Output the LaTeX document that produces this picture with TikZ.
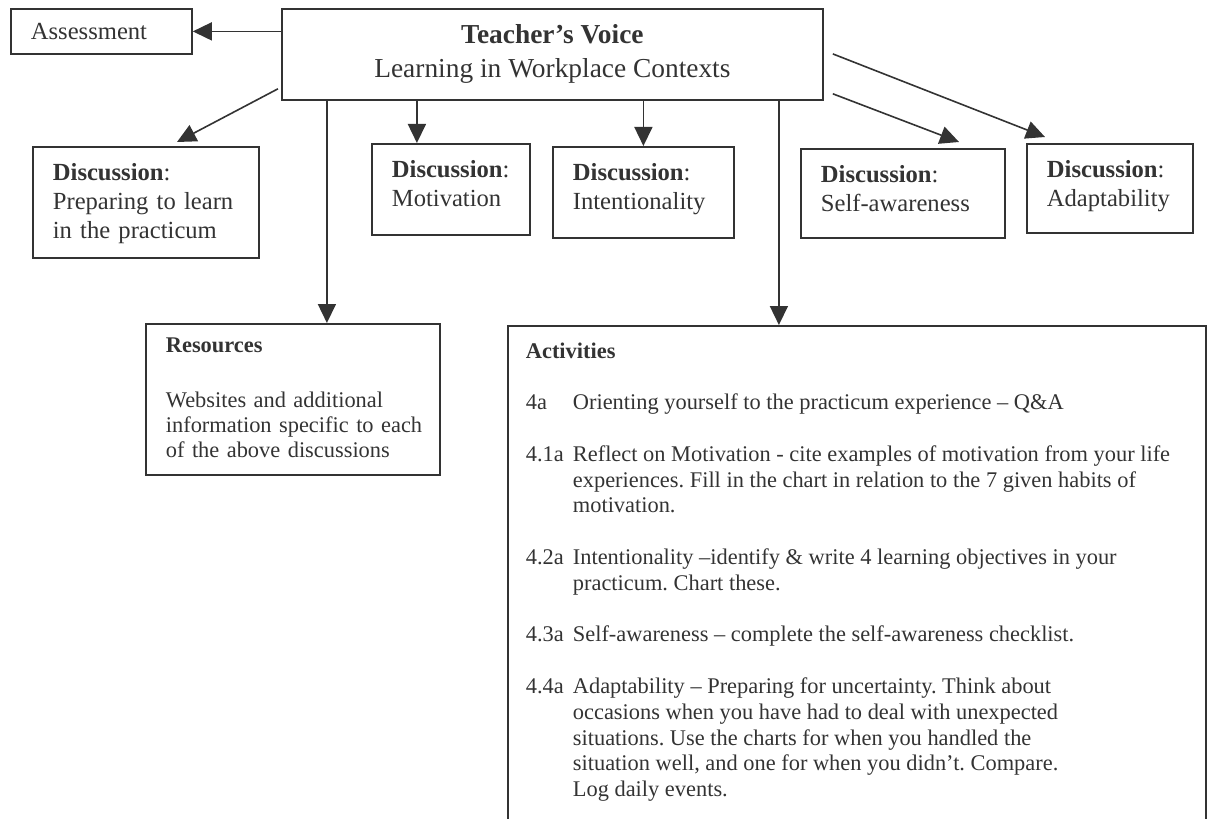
\documentclass[tikz,border=0pt]{standalone}
\usepackage{fontspec}
\setmainfont{Liberation Serif}
\usetikzlibrary{arrows.meta,calc}
\definecolor{lc}{gray}{0.2}
\definecolor{tc}{gray}{0.2}
\newcommand{\actitm}[2]{\hangindent=23.5pt\hangafter=1\noindent\makebox[23.5pt][l]{#1}#2\par}
\begin{document}
\begin{tikzpicture}[x=0.5pt,y=-0.5pt,
  box/.style={draw=lc, line width=0.9pt, rectangle, text=tc, inner ysep=0pt, align=left, anchor=north west},
  disc/.style={font=\fontsize{12.3pt}{14.5pt}\selectfont, inner xsep=10pt, text height=17pt},
  arr/.style={draw=lc, line width=0.8pt, -{Triangle[length=9.5pt,width=9pt]}}]
\useasboundingbox (0,0) rectangle (1208,818);

\node[box, font=\fontsize{12.3pt}{14.5pt}\selectfont, inner xsep=10pt, text width=70.5pt, minimum height=22.5pt] (as) at (10,8) {Assessment};
\node[box, align=center, font=\fontsize{13.7pt}{17pt}\selectfont, minimum width=270.5pt, minimum height=45.5pt] (tv) at (281,8)
  {\textbf{Teacher’s Voice}\\Learning in Workplace Contexts};

\node[box, disc, text width=93pt, text depth=38.5pt] (prep) at (32,146)
  {\textbf{Discussion}:\\Preparing to learn\\in the practicum};
\node[box, disc, text width=59pt, text depth=28.5pt] (mot) at (371,143)
  {\textbf{Discussion}:\\Motivation};
\node[box, disc, text width=70.5pt, text depth=28.5pt] (int) at (552,146)
  {\textbf{Discussion}:\\Intentionality};
\node[box, disc, text width=82pt, text depth=27.5pt] (sa) at (800,148)
  {\textbf{Discussion}:\\Self-awareness};
\node[box, disc, text width=63pt, text depth=27.5pt] (ad) at (1026,143)
  {\textbf{Discussion}:\\Adaptability};

\node[box, font=\fontsize{11.2pt}{12.5pt}\selectfont, inner xsep=10pt, text width=127pt, text height=14.5pt, text depth=61pt] (res) at (145,323)
  {\frenchspacing\mbox{\textbf{Resources}}\\[15pt]\mbox{Websites and additional}\\\mbox{information specific to each}\\\mbox{of the above discussions}};

\node[box, align=justify, font=\fontsize{11.2pt}{12.85pt}\selectfont, inner xsep=9pt, inner ysep=8.3pt, text width=331pt, text depth=250pt] (act) at (507,325)
  {\frenchspacing\setlength{\parskip}{13pt}%
   \noindent\textbf{Activities}\par
   \actitm{4a}{\mbox{Orienting yourself to the practicum experience – Q\&A}}
   \actitm{4.1a}{\mbox{Reflect on Motivation - cite examples of motivation from your life}\\\mbox{experiences. Fill in the chart in relation to the 7 given habits of}\\\mbox{motivation.}}
   \actitm{4.2a}{\mbox{Intentionality –identify \& write 4 learning objectives in your}\\\mbox{practicum. Chart these.}}
   \actitm{4.3a}{\mbox{Self-awareness – complete the self-awareness checklist.}}
   \actitm{4.4a}{\mbox{Adaptability – Preparing for uncertainty. Think about}\\\mbox{occasions when you have had to deal with unexpected}\\\mbox{situations. Use the charts for when you handled the}\\\mbox{situation well, and one for when you didn’t. Compare.}\\\mbox{Log daily events.}}};

\draw[arr] (tv.west |- as.east) -- (as.east);
\draw[arr] ($(tv.south west)+(-3,-12)$) -- ($(prep.north west)+(145,-4)$);
\draw[arr] ($(tv.south -| mot.north)+(-34,0)$) -- ($(mot.north)+(-34,0)$);
\draw[arr] (tv.south -| int.north) -- (int.north);
\draw[arr] ($(tv.south -| res.north)+(34,0)$) -- ($(res.north)+(34,0)$);
\draw[arr] ($(tv.south -| act.north)+(-78,0)$) -- ($(act.north)+(-78,0)$);
\draw[arr] ($(tv.south east)+(9,-7)$) -- ($(sa.north west)+(159,-6)$);
\draw[arr] ($(tv.east)+(9,-0.5)$) -- ($(ad.north west)+(19,-6)$);
\end{tikzpicture}
\end{document}
